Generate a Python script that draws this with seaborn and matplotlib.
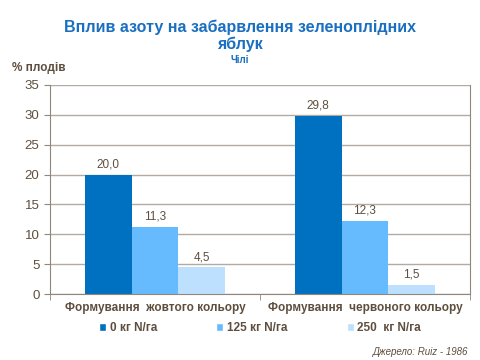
import pandas as pd
import numpy as np
import matplotlib.pyplot as plt
import seaborn as sns
from matplotlib.patches import Patch

categories = ['Формування  жовтого кольору', 'Формування  червоного кольору']
doses = ['0 кг N/га', '125 кг N/га', '250  кг N/га']
vals_0 = [20.0, 29.8]
vals_125 = [11.3, 12.3]
vals_250 = [4.5, 1.5]
colors = ['#0070c0', '#66bbff', '#bde0ff']

df = pd.DataFrame({
    'cat': categories * 3,
    'dose': [doses[0]] * 2 + [doses[1]] * 2 + [doses[2]] * 2,
    'val': vals_0 + vals_125 + vals_250,
})

sns.set_style('white')
plt.rcParams['font.family'] = ['Liberation Sans', 'DejaVu Sans']
txt = '#5e4e3e'
grid = '#b3aba1'

fig = plt.figure(figsize=(4.8, 3.6), dpi=100)
ax = fig.add_axes([0.104, 0.183, 0.875, 0.581])
sns.barplot(data=df, x='cat', y='val', hue='dose', hue_order=doses,
            palette=colors, width=0.667, ax=ax, legend=False, saturation=1,
            linewidth=0, edgecolor='none')

for c in ax.containers:
    ax.bar_label(c, labels=[f'{v:.1f}'.replace('.', ',') for v in c.datavalues],
                 padding=3, fontsize=8.5, color=txt)

ax.set_ylim(0, 35)
ax.set_xlim(-0.5, 1.5)
ax.set_yticks(range(0, 36, 5))
ax.yaxis.grid(True, color=grid, linewidth=1)
ax.set_axisbelow(True)
ax.set_xlabel('')
ax.set_ylabel('')
ax.spines['top'].set_visible(False)
for s in ['left', 'bottom', 'right']:
    ax.spines[s].set_color('#8f877d')
ax.tick_params(axis='y', length=4, color='#8f877d', labelsize=9.5, labelcolor=txt, left=True)
ax.tick_params(axis='x', length=0, labelsize=8.5, labelcolor=txt, pad=6)
ax.set_xticks([-0.5, 0.5, 1.5], minor=True)
ax.tick_params(axis='x', which='minor', length=4, color='#8f877d', bottom=True)
for t in ax.get_xticklabels():
    t.set_fontweight('bold')

fig.text(0.5, 0.9, 'Вплив азоту на забарвлення зеленоплідних\nяблук', ha='center', va='center',
         fontsize=11.5, fontweight='bold', color='#1a6fc0', linespacing=1.1)
fig.text(0.5, 0.833, 'Чілі', ha='center', va='center', fontsize=7, fontweight='bold', color='#1a6fc0')
fig.text(0.025, 0.81, '% плодів', ha='left', va='center', fontsize=8.5, fontweight='bold', color=txt)

handles = [Patch(facecolor=c, label=d) for c, d in zip(colors, doses)]
fig.legend(handles=handles, loc='center', bbox_to_anchor=(0.542, 0.088), ncol=3, frameon=False,
           handlelength=0.6, handleheight=0.6, handletextpad=0.3,
           columnspacing=5.0, labelcolor=txt, prop={'weight': 'bold', 'size': 8.5})

fig.text(0.975, 0.022, 'Джерело: Ruiz - 1986', ha='right', va='center', fontsize=7,
         style='italic', color=txt)

plt.savefig('out.png', dpi=100)
